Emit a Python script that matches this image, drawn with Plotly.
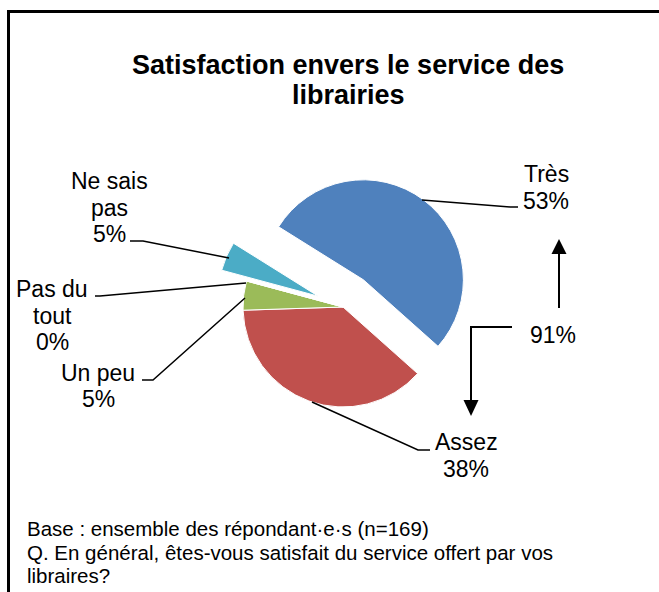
import plotly.graph_objects as go

W, H = 659, 592

# ---- data ----
categories = ["Très", "Assez", "Un peu", "Pas du tout", "Ne sais pas"]
values = [52.7, 37.9, 4.7, 0.0, 4.7]
colors = ["#4F81BD", "#C0504D", "#9BBB59", "#8064A2", "#4BACC6"]
pulls = [0.34, 0, 0, 0, 0.27]
label_lines = [["Très"], ["Assez"], ["Un peu"], ["Pas du", "tout"], ["Ne sais", "pas"]]
title_lines = ["Satisfaction envers le service des", "librairies"]
footer_lines = ["Base : ensemble des répondant·e·s (n=169)",
                "Q. En général, êtes-vous satisfait du service offert par vos",
                "libraires?"]
total_satisfied = values[0] + values[1]

FONT = "Liberation Sans, Arial, sans-serif"


def X(x):
    return x / W


def Y(y):
    return 1 - y / H


# pie placement (pixels)
cx, cy, r = 343, 307, 100
half = r * (1 + max(pulls))

fig = go.Figure(go.Pie(
    labels=categories, values=values, sort=False, direction="clockwise",
    rotation=-58, pull=pulls, textinfo="none", hoverinfo="label+percent",
    marker=dict(colors=colors, line=dict(color="white", width=1)),
    domain=dict(x=[X(cx - half), X(cx + half)], y=[Y(cy + half), Y(cy - half)]),
    showlegend=False,
))

annotations = []
shapes = []


def text(x, y, s, size, bold=False, xanchor="center"):
    annotations.append(dict(
        x=X(x), y=Y(y), xref="paper", yref="paper", text=(f"<b>{s}</b>" if bold else s),
        showarrow=False, xanchor=xanchor, yanchor="middle",
        font=dict(family=FONT, size=size, color="black")))


def path(pts, width=1.5, fill=None):
    d = "M " + " L ".join(f"{X(a)},{Y(b)}" for a, b in pts)
    if fill:
        d += " Z"
    shapes.append(dict(type="path", path=d, xref="paper", yref="paper",
                       line=dict(color="black", width=0 if fill else width),
                       fillcolor=fill if fill else None))


# title
for i, t in enumerate(title_lines):
    text(348, 65 + i * 30, t, 27, bold=True)

# labels: centre x, first-line centre y
label_pos = [(546, 174), (466, 442), (98, 373), (52, 289), (109, 181)]
step = 26.5
for lines, v, (lx, ly) in zip(label_lines, values, label_pos):
    all_lines = lines + [f"{round(v)}%"]
    for j, t in enumerate(all_lines):
        text(lx, ly + j * step, t, 23)

# leader lines
leaders = [
    [(422, 200), (510, 207), (518, 207)],
    [(312, 402), (418, 450), (430, 450)],
    [(245, 298), (153, 380), (142, 380)],
    [(246, 283), (100, 296), (95, 296)],
    [(229, 258), (143, 241), (130, 241)],
]
for pts in leaders:
    path(pts, width=1.5)

# 91% annotation with arrows
text(553, 335, f"{round(total_satisfied)}%", 23)
path([(559, 308), (559, 252)], width=2)
path([(559, 239), (551.5, 254), (566.5, 254)], fill="black")
path([(512, 327), (471, 327), (471, 402)], width=2)
path([(471, 416), (463.5, 400), (478.5, 400)], fill="black")

# footer
for i, t in enumerate(footer_lines):
    text(25, 528.5 + i * 23.5, t, 20.5, xanchor="left")

# frame
shapes.append(dict(type="rect", xref="paper", yref="paper",
                   x0=X(8.5), y0=Y(620), x1=X(700), y1=Y(11.5),
                   line=dict(color="black", width=3), fillcolor="rgba(0,0,0,0)"))

fig.update_layout(
    width=W, height=H, margin=dict(l=0, r=0, t=0, b=0),
    paper_bgcolor="white", plot_bgcolor="white",
    annotations=annotations, shapes=shapes,
    font=dict(family=FONT, color="black"),
)

fig.write_html("out.html", config={"displayModeBar": False},
               post_script="document.body.style.margin='0px';")
